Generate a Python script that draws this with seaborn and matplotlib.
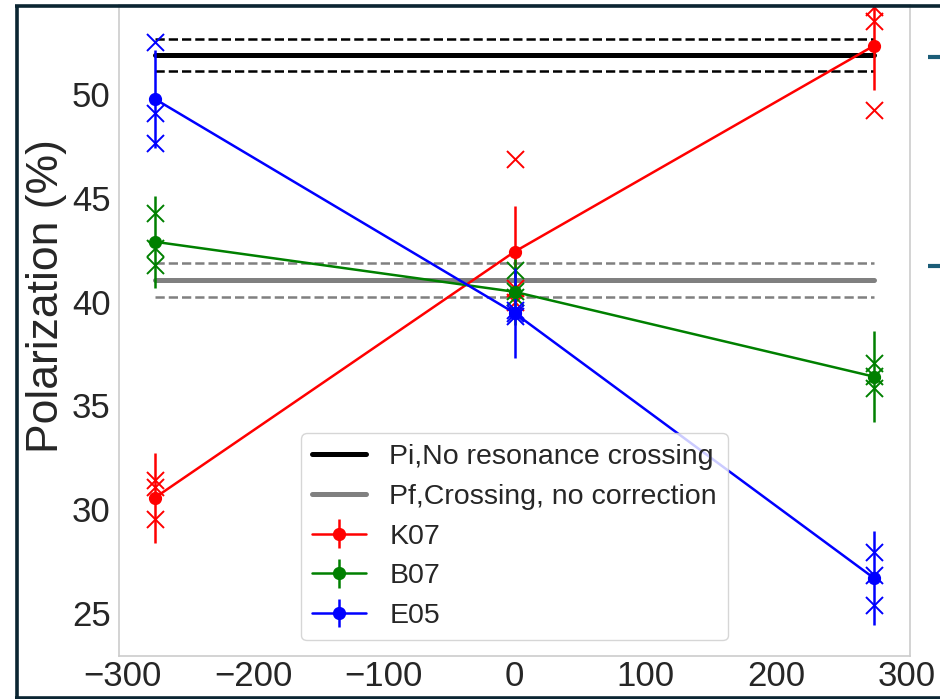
import matplotlib
matplotlib.use("Agg")
import matplotlib.pyplot as plt
from matplotlib.lines import Line2D
import numpy as np
import pandas as pd
import seaborn as sns

# Beam position (x) for each measurement set
x_pos = [-275, 0, 275]

# Reference polarizations (mean, uncertainty)
pi_value, pi_err = 51.86, 0.77
pf_value, pf_err = 41.04, 0.83

# Mean polarization and error per series
k07_mean = [30.55, 42.40, 52.33]
k07_err = [2.17, 2.20, 2.14]
b07_mean = [42.88, 40.47, 36.38]
b07_err = [2.21, 1.60, 2.20]
e05_mean = [49.76, 39.45, 26.67]
e05_err = [2.37, 2.17, 2.25]

# Individual measurements per position
k07_runs = [[31.40, 31.07, 29.52], [46.87, 40.65, 39.98], [54.20, 53.50, 49.23]]
b07_runs = [[44.27, 42.58, 41.76], [41.52, 40.50, 40.20], [37.05, 36.40, 35.83]]
e05_runs = [[52.52, 49.08, 47.64], [39.60, 39.30, 39.45], [27.94, 26.80, 25.37]]

series_names = ["K07", "B07", "E05"]
series_colors = ["red", "green", "blue"]

sns.set_theme(style="whitegrid")
plt.rcParams["font.family"] = ["Liberation Sans", "DejaVu Sans"]

fig = plt.figure(figsize=(9.40, 6.99), dpi=100)
W, H = 940, 699
ax = fig.add_axes([119 / W, 1 - 656 / H, (910 - 119) / W, (656 - 5) / H])
ax.grid(False)

# Reference levels with their uncertainty bands
ax.plot([x_pos[0], x_pos[-1]], [pi_value, pi_value], color="black", lw=3.6,
        label="Pi,No resonance crossing", zorder=2)
for v in (pi_value - pi_err, pi_value + pi_err):
    ax.plot([x_pos[0], x_pos[-1]], [v, v], color="black", lw=1.8, ls="--", zorder=2)
ax.plot([x_pos[0], x_pos[-1]], [pf_value, pf_value], color="gray", lw=3.6,
        label="Pf,Crossing, no correction", zorder=2)
for v in (pf_value - pf_err, pf_value + pf_err):
    ax.plot([x_pos[0], x_pos[-1]], [v, v], color="gray", lw=1.8, ls="--", zorder=2)

means = [k07_mean, b07_mean, e05_mean]
errs = [k07_err, b07_err, e05_err]
runs = [k07_runs, b07_runs, e05_runs]

for name, color, m, e, r in zip(series_names, series_colors, means, errs, runs):
    ax.errorbar(x_pos, m, yerr=e, fmt="-o", color=color, lw=1.8, ms=8.5,
                elinewidth=1.8, capsize=0, label=name, zorder=3)
    df = pd.DataFrame({
        "x": np.repeat(x_pos, [len(v) for v in r]),
        "P": [p for v in r for p in v],
    })
    sns.scatterplot(data=df, x="x", y="P", ax=ax, marker="x", color=color,
                    s=150, linewidth=1.4, legend=False, zorder=3)

ax.set_xlim(-302.5, 302.5)
ax.set_ylim(22.92, 54.29)
ax.set_yticks([25, 30, 35, 40, 45, 50])
ax.set_xticks([-300, -200, -100, 0, 100, 200, 300])
ax.set_xlabel("")
ax.set_ylabel("Polarization (%)", fontsize=32, color=".15")
ax.yaxis.set_label_coords(-0.066, 0.553)
ax.tick_params(axis="both", labelsize=25, colors=".15", length=0)
ax.tick_params(axis="y", pad=6)
ax.tick_params(axis="x", pad=3)
for s in ax.spines.values():
    s.set_color(".8")
    s.set_linewidth(1.2)

leg = ax.legend(loc="lower center", fontsize=20.5, labelspacing=0.48,
                handlelength=1.9, frameon=True, fancybox=True, borderaxespad=0.55)
leg.get_frame().set_edgecolor(".8")

# Slide frame and side markers
frame_c = "#0b2532"
fig.add_artist(Line2D([15 / W, 1], [1 - 6.3 / H, 1 - 6.3 / H], color=frame_c, lw=2.6,
                      transform=fig.transFigure, solid_capstyle="butt"))
fig.add_artist(Line2D([16.5 / W, 16.5 / W], [1 - 5 / H, 0], color=frame_c, lw=2.6,
                      transform=fig.transFigure, solid_capstyle="butt"))
fig.add_artist(Line2D([15 / W, 1], [1 - 697.5 / H, 1 - 697.5 / H], color=frame_c, lw=2.6,
                      transform=fig.transFigure, solid_capstyle="butt"))
for yy in (57, 266):
    fig.add_artist(Line2D([928 / W, 1], [1 - yy / H, 1 - yy / H], color="#1c5d78", lw=3,
                          transform=fig.transFigure, solid_capstyle="butt"))

fig.savefig("out.png", dpi=100)
